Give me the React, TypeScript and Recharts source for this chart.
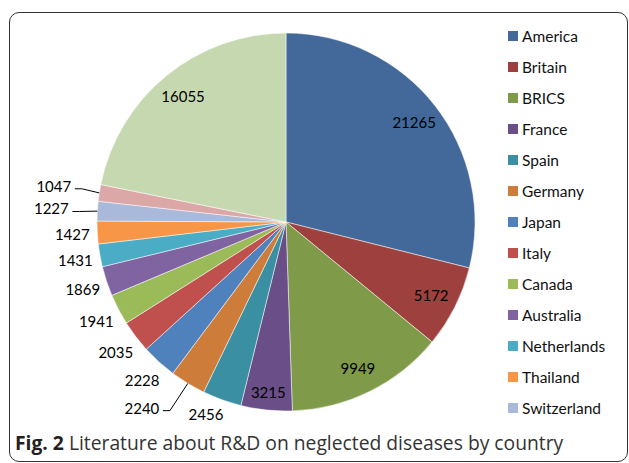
import React from 'react';
import { PieChart, Pie, Cell } from 'recharts';

const countries = [
  'America', 'Britain', 'BRICS', 'France', 'Spain', 'Germany', 'Japan', 'Italy',
  'Canada', 'Australia', 'Netherlands', 'Thailand', 'Switzerland', 'Sweden', 'Others',
];
const papers = [21265, 5172, 9949, 3215, 2456, 2240, 2228, 2035, 1941, 1869, 1431, 1427, 1227, 1047, 16055];
const colors = [
  '#43699b', '#9e413e', '#7f9a49', '#6a4e88', '#3b8fa3', '#ce7c3a', '#4f81bd', '#c0504d',
  '#9bbb59', '#8064a2', '#4bacc6', '#f79646', '#a8b9da', '#dba8a7', '#c6d8b0',
];

const data = countries.map((name, i) => ({ name, value: papers[i] }));

const RAD = Math.PI / 180;
const FONT = 'Lato, "Open Sans", sans-serif';
const LEGEND_ROW = 31.04;
const LEGEND_H = 404;

// labels that sit further out with a leader line
const leaders = ['Germany', 'Switzerland', 'Sweden'];
// best-fit tweaks: clockwise angle nudge (deg) and radial nudge (px)
const nudge: Record<string, [number, number]> = {
  Germany: [6.5, 0],
  Spain: [2.8, -6],
  France: [0, 8],
};

const renderLabel = (props: any) => {
  const { cx, cy, midAngle, outerRadius, value, name } = props;
  const inside = value > 3000;
  const leader = leaders.includes(name);
  const [dA, dR] = nudge[name] || [0, 0];
  const ang = (midAngle - dA) * RAD;
  const r = (inside ? outerRadius * 0.86 : leader ? outerRadius + 46 : outerRadius + 25) + dR;
  const x = cx + r * Math.cos(-ang);
  const y = cy + r * Math.sin(-ang);
  let line = null;
  if (leader) {
    const ex = cx + outerRadius * Math.cos(-midAngle * RAD);
    const ey = cy + outerRadius * Math.sin(-midAngle * RAD);
    const sx = x + 21;
    const sy = y + 3;
    line = (
      <polyline
        points={`${sx},${sy} ${sx + 7},${sy} ${ex},${ey}`}
        fill="none"
        stroke="#000"
        strokeWidth={1}
      />
    );
  }
  return (
    <g>
      {line}
      <text
        x={x}
        y={y}
        textAnchor="middle"
        dominantBaseline="central"
        fontSize={15}
        fontFamily={FONT}
        fill="#000"
      >
        {value}
      </text>
    </g>
  );
};

export default function App() {
  // the frame clips the legend after the rows that fit
  const shown = countries.slice(0, Math.floor(LEGEND_H / LEGEND_ROW));
  return (
    <div
      style={{
        position: 'absolute',
        left: 0,
        top: 0,
        width: 629,
        height: 463,
        overflow: 'hidden',
        background: '#fff',
      }}
    >
      <div
        style={{
          position: 'absolute',
          left: 9,
          top: 12,
          width: 617,
          height: 448,
          border: '1.5px solid #333',
          borderRadius: 10,
        }}
      />
      <div style={{ position: 'absolute', left: 0, top: 0 }}>
        <PieChart width={629} height={463} margin={{ top: 0, right: 0, bottom: 0, left: 0 }}>
          <Pie
            data={data}
            dataKey="value"
            nameKey="name"
            cx={286}
            cy={222}
            outerRadius={189}
            startAngle={90}
            endAngle={-270}
            stroke="#ffffff"
            strokeWidth={0.5}
            label={renderLabel}
            labelLine={false}
            isAnimationActive={false}
          >
            {data.map((d, i) => (
              <Cell key={d.name} fill={colors[i]} />
            ))}
          </Pie>
        </PieChart>
      </div>
      <div
        style={{
          position: 'absolute',
          left: 505,
          top: 20,
          width: 122,
          height: LEGEND_H,
          overflow: 'hidden',
        }}
      >
        {shown.map((name, i) => (
          <div key={name} style={{ height: LEGEND_ROW, display: 'flex', alignItems: 'center' }}>
            <div style={{ width: 10, height: 10, marginLeft: 3, background: colors[i] }} />
            <span style={{ marginLeft: 4, fontSize: 15.5, fontFamily: FONT, color: '#111', lineHeight: '18px' }}>
              {name}
            </span>
          </div>
        ))}
      </div>
      <div
        style={{
          position: 'absolute',
          left: 15,
          top: 431,
          width: 605,
          height: 26,
          fontFamily: '"Open Sans", sans-serif',
          fontSize: 19.3,
          lineHeight: '24px',
          color: '#333',
          whiteSpace: 'nowrap',
        }}
      >
        <span style={{ fontWeight: 700, color: '#231f20' }}>Fig. 2</span> Literature about R&amp;D on neglected diseases by country
      </div>
    </div>
  );
}
